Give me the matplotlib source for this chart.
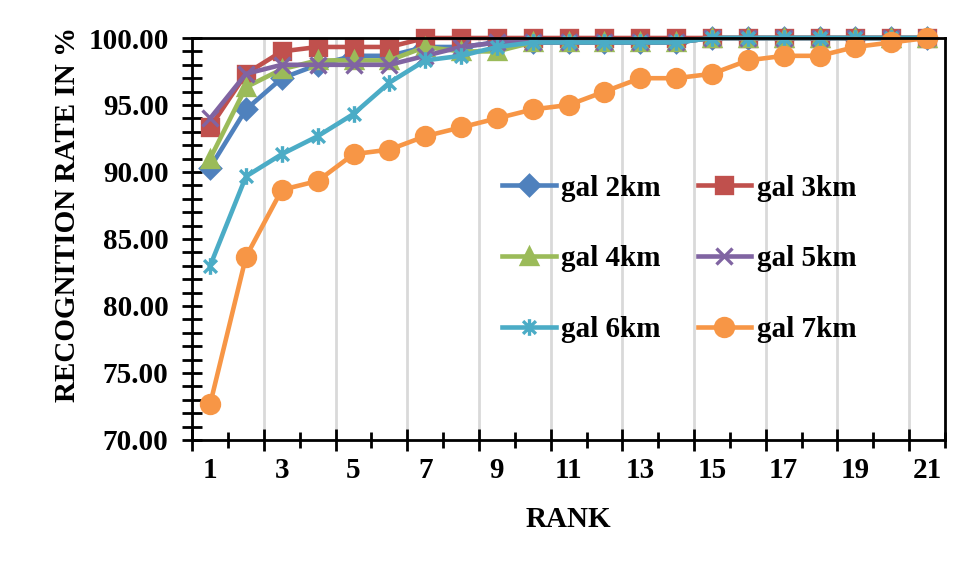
import matplotlib
matplotlib.use("Agg")
import matplotlib.pyplot as plt
from matplotlib.path import Path
from matplotlib.ticker import MultipleLocator, FormatStrFormatter, FixedLocator, NullFormatter

ranks = list(range(1, 22))
gal_2km = [90.33, 94.67, 97.00, 98.00, 98.67, 98.67, 99.33, 99.33, 99.67, 99.67, 99.67,
           99.67, 99.67, 99.67, 100, 100, 100, 100, 100, 100, 100]
gal_3km = [93.33, 97.33, 99.00, 99.33, 99.33, 99.33, 100, 100, 100, 100, 100,
           100, 100, 100, 100, 100, 100, 100, 100, 100, 100]
gal_4km = [91.00, 96.33, 97.67, 98.33, 98.33, 98.33, 99.33, 99.00, 99.00, 99.67, 99.67,
           99.67, 99.67, 99.67, 100, 100, 100, 100, 100, 100, 100]
gal_5km = [94.00, 97.33, 98.00, 98.00, 98.00, 98.00, 98.67, 99.33, 99.67, 99.67, 99.67,
           99.67, 99.67, 99.67, 100, 100, 100, 100, 100, 100, 100]
gal_6km = [83.00, 89.67, 91.33, 92.67, 94.33, 96.67, 98.33, 98.67, 99.33, 99.67, 99.67,
           99.67, 99.67, 99.67, 100, 100, 100, 100, 100, 100, 100]
gal_7km = [72.67, 83.67, 88.67, 89.33, 91.33, 91.67, 92.67, 93.33, 94.00, 94.67, 95.00,
           96.00, 97.00, 97.00, 97.33, 98.33, 98.67, 98.67, 99.33, 99.67, 100.00]
labels = ["gal 2km", "gal 3km", "gal 4km", "gal 5km", "gal 6km", "gal 7km"]

# excel style asterisk: an X with a vertical bar
star = Path([(-1, -1), (1, 1), (-1, 1), (1, -1), (0, -1.3), (0, 1.3)],
            [Path.MOVETO, Path.LINETO, Path.MOVETO, Path.LINETO, Path.MOVETO, Path.LINETO])

styles = [
    ("#4F81BD", "D", 10),
    ("#C0504D", "s", 12),
    ("#9BBB59", "^", 12),
    ("#8064A2", "x", 12),
    ("#4BACC6", star, 12),
    ("#F79646", "o", 13),
]

plt.rcParams['font.family'] = ['Liberation Serif', 'DejaVu Serif']
plt.rcParams['font.weight'] = 'bold'

fig = plt.figure(figsize=(9.61, 5.63), dpi=100)
ax = fig.add_axes([0.2, 0.2185, 0.7834, 0.714])

series = [gal_2km, gal_3km, gal_4km, gal_5km, gal_6km, gal_7km]
handles = []
for vals, lab, (col, mk, ms) in zip(series, labels, styles):
    h, = ax.plot(ranks, vals, color=col, lw=3.3, marker=mk, ms=ms,
                 mfc=col, mec=col, mew=2.4, label=lab, clip_on=False)
    handles.append(h)

ax.set_xlim(0.5, 21.5)
ax.set_ylim(70, 100)

# category boundaries: long ticks every 2, short in between
ax.xaxis.set_major_locator(FixedLocator([0.5 + 2 * i for i in range(11)]))
ax.xaxis.set_minor_locator(FixedLocator([1.5 + 2 * i for i in range(11)]))
ax.xaxis.set_major_formatter(NullFormatter())
ax.tick_params(axis='x', which='major', direction='inout', length=16, width=2)
ax.tick_params(axis='x', which='minor', direction='inout', length=11, width=2)
ax.grid(axis='x', which='major', color='#D9D9D9', lw=2)

sec = ax.secondary_xaxis('bottom')
sec.set_xticks(ranks[::2])
sec.set_xticklabels([str(r) for r in ranks[::2]])
sec.tick_params(length=0, pad=12, labelsize=21)
sec.spines['bottom'].set_visible(False)

ax.yaxis.set_major_locator(MultipleLocator(5))
ax.yaxis.set_minor_locator(MultipleLocator(1))
ax.yaxis.set_major_formatter(FormatStrFormatter('%.2f'))
ax.tick_params(axis='y', which='both', direction='inout', length=14, width=2, labelsize=21)
ax.tick_params(axis='y', which='major', pad=10)

for sp in ax.spines.values():
    sp.set_linewidth(2)
    sp.set_color('black')

ax.set_xlabel("RANK", fontsize=21, fontweight='bold', labelpad=36)
ax.set_ylabel("RECOGNITION RATE IN %", fontsize=21, fontweight='bold')
ax.yaxis.set_label_coords(-0.148, 0.56)

order = [0, 2, 4, 1, 3, 5]
ax.legend([handles[i] for i in order], [labels[i] for i in order], ncol=2,
          loc='upper left', bbox_to_anchor=(0.522, 0.69), bbox_transform=fig.transFigure,
          frameon=False, fontsize=21, handlelength=1.85, handletextpad=0.2,
          columnspacing=1.25, labelspacing=1.5, borderpad=0, borderaxespad=0)

fig.savefig("out.png", dpi=100)
